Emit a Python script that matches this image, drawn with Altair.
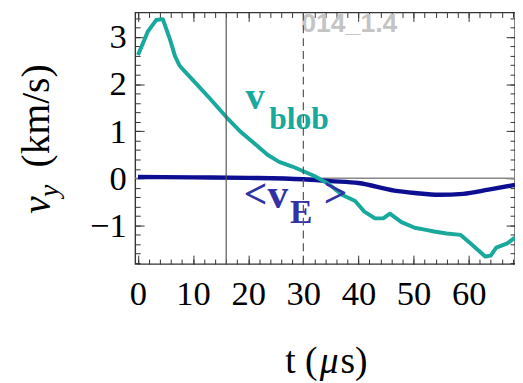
import altair as alt
import pandas as pd

# ---- data ----
t_blob = [0, 1.8, 3.3, 4.5, 5.8, 6.7, 7.5, 8.4, 10.8, 13, 16.1, 18.5, 21.5, 23.5, 25.6, 28, 30, 32,
          34.6, 37, 39.4, 41, 43, 44.5, 45.7, 47.8, 50.2, 52.5, 53.7, 56, 58.5, 60.5, 63, 64, 65, 67, 68.4]
v_blob = [2.62, 3.12, 3.36, 3.38, 2.95, 2.6, 2.4, 2.28, 1.98, 1.7, 1.29, 1.0, 0.7, 0.5, 0.35, 0.25, 0.15, 0.05,
          -0.12, -0.35, -0.48, -0.7, -0.85, -0.85, -0.75, -0.93, -1.05, -1.1, -1.13, -1.17, -1.2, -1.4, -1.66, -1.64,
          -1.47, -1.38, -1.26]

t_E = [0, 10, 20, 30, 35, 40, 46.5, 50.2, 54.6, 59, 63.6, 68.4]
v_E = [0.03, 0.02, 0.01, -0.02, -0.06, -0.1, -0.26, -0.31, -0.35, -0.33, -0.24, -0.14]

x_major = [0, 10, 20, 30, 40, 50, 60]
x_minor = list(range(0, 70, 2))
y_major = [-1, 0, 1, 2, 3]
y_minor = [round(-1.8 + 0.2 * i, 1) for i in range(27)]

marker_t = [16, 30]
marker_kind = ["solid", "dashed"]

TEAL = "#18a89c"
NAVY = "#0e0e92"
VE_TXT = "#3232a6"
SERIF = "Liberation Serif"
SANS = "Liberation Sans"

df_blob = pd.DataFrame({"t": t_blob, "v": v_blob})
df_E = pd.DataFrame({"t": t_E, "v": v_E})
df_mark = pd.DataFrame({"t": marker_t, "kind": marker_kind})
one = alt.Data(values=[{}])

xs = alt.Scale(domain=[-0.5, 68.4], nice=False, zero=False)
ys = alt.Scale(domain=[-1.82, 3.52], nice=False, zero=False)


def ax(orient, values, size, labels):
    kw = dict(orient=orient, values=values, tickSize=size, offset=-size, labels=labels,
              domain=False, grid=False, title=None, tickColor="#333333", tickWidth=1)
    if labels:
        kw.update(labelFont=SERIF, labelFontSize=35, labelColor="black",
                  labelPadding=13 if orient in ("bottom", "top") else 9,
                  labelFlush=False, labelOverlap=False)
    return alt.Axis(**kw)


teal = alt.Chart(df_blob).mark_line(color=TEAL, strokeWidth=4, strokeJoin="round").encode(
    x=alt.X("t:Q", scale=xs, axis=ax("bottom", x_major, 9, True)),
    y=alt.Y("v:Q", scale=ys, axis=ax("left", y_major, 9, True)),
)
blue = alt.Chart(df_E).mark_line(color=NAVY, strokeWidth=4.5, strokeJoin="round", interpolate="monotone").encode(
    x=alt.X("t:Q", scale=xs, axis=ax("bottom", x_minor, 5, False)),
    y=alt.Y("v:Q", scale=ys, axis=ax("left", y_minor, 5, False)),
)
zero = alt.Chart(one).mark_rule(color="#888888", strokeWidth=1.5).encode(
    y=alt.Y(datum=0, scale=ys, axis=ax("right", y_major, 9, False)),
)
vrules = alt.Chart(df_mark).mark_rule(color="#555555", strokeWidth=1.2).encode(
    x=alt.X("t:Q", scale=xs, axis=ax("top", x_major, 9, False)),
    strokeDash=alt.StrokeDash("kind:N", scale=alt.Scale(domain=["solid", "dashed"], range=[[1, 0], [8, 5]]),
                              legend=None),
)
ghost = alt.Chart(df_blob).mark_point(opacity=0).encode(
    x=alt.X("t:Q", scale=xs, axis=ax("top", x_minor, 5, False)),
    y=alt.Y("v:Q", scale=ys, axis=ax("right", y_minor, 5, False)),
)


def ann(text, t, v, size, color, font=SERIF, weight="bold"):
    return alt.Chart(one).mark_text(text=text, font=font, fontSize=size, fontWeight=weight,
                                    color=color, align="left", baseline="alphabetic").encode(
        x=alt.X(datum=t, scale=xs, axis=None),
        y=alt.Y(datum=v, scale=ys, axis=None),
    )


def pix(text, px, py, size, italic=False, angle=0):
    kw = dict(text=text, font=SERIF, fontSize=size, color="black", align="left", baseline="alphabetic")
    if italic:
        kw["fontStyle"] = "italic"
    if angle:
        kw["angle"] = angle
    return alt.Chart(one).mark_text(**kw).encode(x=alt.value(px), y=alt.value(py))


texts = [
    ann("v", 19.5, 1.47, 39, TEAL),
    ann("blob", 23.8, 1.05, 32, TEAL),
    ann("<v", 19.2, -0.62, 42, VE_TXT),
    ann("E", 27.6, -0.95, 34, VE_TXT),
    ann(">", 33.7, -0.60, 42, VE_TXT),
    ann("014_1.4", 29.6, 3.10, 27, "#c4c4c4", font=SANS),
    # x axis title
    pix("t (", 152, 365, 38),
    pix("\u03bc", 187, 365, 38, italic=True),
    pix("s)", 208, 365, 38),
    # y axis title (rotated)
    pix("v", -86, 204, 40, italic=True, angle=270),
    pix("y", -78, 187, 28, italic=True, angle=270),
    pix("(km/s)", -87, 157, 40, angle=270),
]

chart = alt.layer(zero, blue, teal, ghost, *texts, vrules).resolve_axis(
    x="independent", y="independent"
).properties(
    width=385, height=255,
    padding={"left": 129, "top": 2, "right": 0, "bottom": 118},
    autosize=alt.AutoSizeParams(type="none"),
).configure_view(stroke="#333333", strokeWidth=1.4)

chart.save("out.html", embed_options={"renderer": "svg", "actions": False})
